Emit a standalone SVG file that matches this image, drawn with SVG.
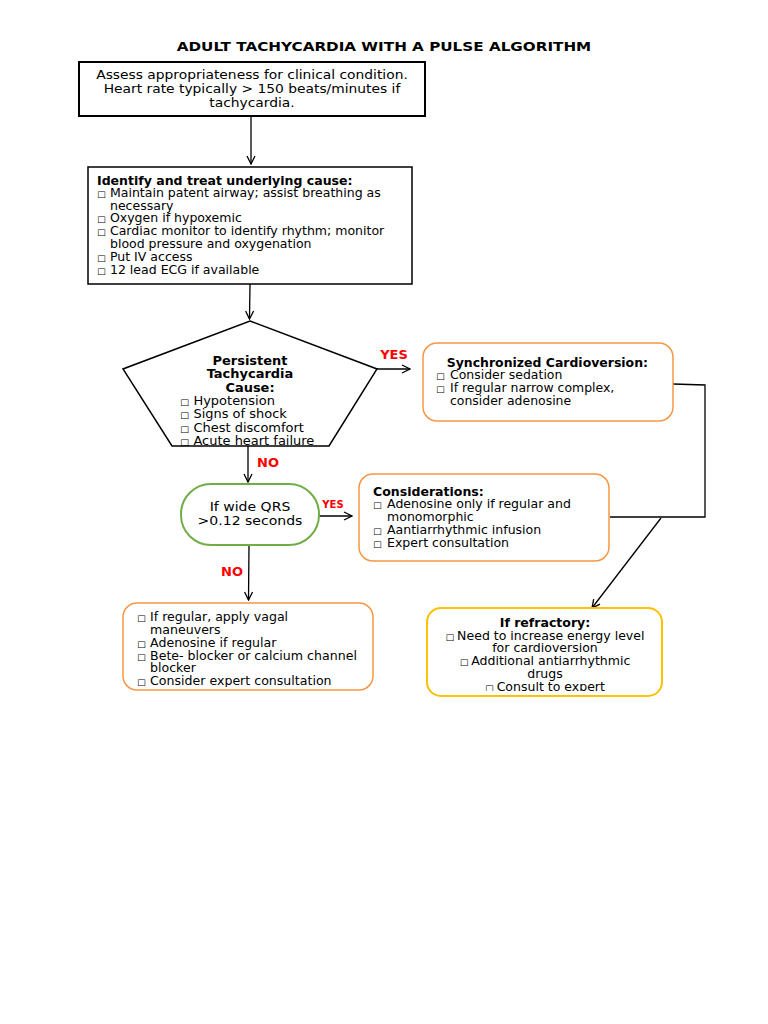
<svg xmlns="http://www.w3.org/2000/svg" width="768" height="1024" viewBox="0 0 768 1024">
<style>
text{font-family:"DejaVu Sans","Verdana",sans-serif;fill:#000}
.t13{font-size:13px}
.t12{font-size:11.6px}
.b{font-weight:bold}
.c{text-anchor:middle}
.bx{font-size:8.5px}
.red{fill:#FF0000;font-weight:bold}
.ln{stroke:#000;stroke-width:1.3;fill:none}
.arr{stroke:#000;stroke-width:1.3;fill:none;marker-end:url(#ah)}
</style>
<defs>
<marker id="ah" markerWidth="10" markerHeight="10" refX="9" refY="5" orient="auto" markerUnits="userSpaceOnUse">
<path d="M1,1 L9,5 L1,9" fill="none" stroke="#000" stroke-width="1.3"/>
</marker>
<clipPath id="cp-pent"><rect x="120" y="318" width="260" height="128"/></clipPath>
<clipPath id="cp-bl"><rect x="123" y="603" width="250" height="84"/></clipPath>
<clipPath id="cp-ref"><rect x="427" y="608" width="235" height="83"/></clipPath>
</defs>
<rect width="768" height="1024" fill="#fff"/>
<g transform="matrix(1.17,0,0,1,-65.28,0)">
<text id="title" class="b c" x="384" y="51" font-size="13">ADULT TACHYCARDIA WITH A PULSE ALGORITHM</text>
</g>

<g id="connectors">
<line class="arr" x1="251" y1="116" x2="251" y2="164"/>
<line class="arr" x1="250" y1="284" x2="249.5" y2="319"/>
<line class="arr" x1="377" y1="369" x2="410" y2="369"/>
<line class="arr" x1="248" y1="446" x2="248" y2="482"/>
<line class="arr" x1="319" y1="516" x2="352" y2="516"/>
<line class="arr" x1="249" y1="545" x2="248.5" y2="600"/>
<polyline class="ln" points="673,384 705,385 705,517 610,517"/>
<line class="arr" x1="661" y1="518" x2="592" y2="608"/>
<text class="red" x="394" y="359" font-size="13" text-anchor="middle">YES</text>
<text class="red" x="268" y="467" font-size="13" text-anchor="middle">NO</text>
<text class="red" x="333" y="508" font-size="10" text-anchor="middle">YES</text>
<text class="red" x="232" y="576" font-size="13" text-anchor="middle">NO</text>
</g>

<g id="assess">
<rect x="79" y="62" width="346" height="54" fill="#fff" stroke="#000" stroke-width="2"/>
<g transform="matrix(1.065,0,0,1,-16.38,0)">
<text class="t13 c" x="252" y="79">Assess appropriateness for clinical condition.</text>
<text class="t13 c" x="252" y="93">Heart rate typically &gt; 150 beats/minutes if</text>
<text class="t13 c" x="252" y="107">tachycardia.</text>
</g>
</g>

<g id="identify">
<rect x="88" y="167" width="324" height="117" fill="#fff" stroke="#000" stroke-width="1.5"/>
<g transform="matrix(1.08,0,0,1,-7.76,0)">
<text class="t12 b" x="97" y="185">Identify and treat underlying cause:</text>
<text class="t12" y="197"><tspan class="bx" x="97">□</tspan><tspan x="109">Maintain patent airway; assist breathing as</tspan></text>
<text class="t12" x="109" y="210">necessary</text>
<text class="t12" y="222"><tspan class="bx" x="97">□</tspan><tspan x="109">Oxygen if hypoxemic</tspan></text>
<text class="t12" y="235"><tspan class="bx" x="97">□</tspan><tspan x="109">Cardiac monitor to identify rhythm; monitor</tspan></text>
<text class="t12" x="109" y="248">blood pressure and oxygenation</text>
<text class="t12" y="261"><tspan class="bx" x="97">□</tspan><tspan x="109">Put IV access</tspan></text>
<text class="t12" y="274"><tspan class="bx" x="97">□</tspan><tspan x="109">12 lead ECG if available</tspan></text>
</g>
</g>

<g id="persistent">
<polygon points="250,321 377,369 329,446 172,446 123,369" fill="#fff" stroke="#000" stroke-width="1.5"/>
<g clip-path="url(#cp-pent)">
<g transform="matrix(1.12,0,0,1,-30,0)">
<text class="t12 b c" x="250" y="365">Persistent</text>
<text class="t12 b c" x="250" y="378">Tachycardia</text>
<text class="t12 b c" x="250" y="392">Cause:</text>
</g>
<g transform="matrix(1.12,0,0,1,-21.6,0)">
<text class="t12" y="405"><tspan class="bx" x="180">□</tspan><tspan x="192">Hypotension</tspan></text>
<text class="t12" y="418"><tspan class="bx" x="180">□</tspan><tspan x="192">Signs of shock</tspan></text>
<text class="t12" y="432"><tspan class="bx" x="180">□</tspan><tspan x="192">Chest discomfort</tspan></text>
<text class="t12" y="445"><tspan class="bx" x="180">□</tspan><tspan x="192">Acute heart failure</tspan></text>
</g>
</g>
</g>

<g id="sync">
<rect x="423" y="343" width="250" height="78" rx="14" fill="#fff" stroke="#F79646" stroke-width="1.5"/>
<g transform="matrix(1.075,0,0,1,-32.7,0)">
<text class="t12 b" x="446" y="367">Synchronized Cardioversion:</text>
<text class="t12" y="379"><tspan class="bx" x="436">□</tspan><tspan x="449">Consider sedation</tspan></text>
<text class="t12" y="392"><tspan class="bx" x="436">□</tspan><tspan x="449">If regular narrow complex,</tspan></text>
<text class="t12" x="449" y="405">consider adenosine</text>
</g>
</g>

<g id="wideqrs">
<rect x="181" y="484" width="138" height="61" rx="30" fill="#fff" stroke="#70AD47" stroke-width="2"/>
<g transform="matrix(1.08,0,0,1,-20,0)">
<text class="t13 c" x="250" y="511">If wide QRS</text>
<text class="t13 c" x="250" y="525">&gt;0.12 seconds</text>
</g>
</g>

<g id="considerations">
<rect x="359" y="474" width="250" height="87" rx="14" fill="#fff" stroke="#F79646" stroke-width="1.5"/>
<g transform="matrix(1.08,0,0,1,-29.84,0)">
<text class="t12 b" x="373" y="496">Considerations:</text>
<text class="t12" y="508"><tspan class="bx" x="373">□</tspan><tspan x="386">Adenosine only if regular and</tspan></text>
<text class="t12" x="386" y="521">monomorphic</text>
<text class="t12" y="534"><tspan class="bx" x="373">□</tspan><tspan x="386">Aantiarrhythmic infusion</tspan></text>
<text class="t12" y="547"><tspan class="bx" x="373">□</tspan><tspan x="386">Expert consultation</tspan></text>
</g>
</g>

<g id="narrow">
<rect x="123" y="603" width="250" height="87" rx="14" fill="#fff" stroke="#F79646" stroke-width="1.5"/>
<g clip-path="url(#cp-bl)">
<g transform="matrix(1.086,0,0,1,-11.78,0)">
<text class="t12" y="621"><tspan class="bx" x="137">□</tspan><tspan x="149">If regular, apply vagal</tspan></text>
<text class="t12" x="149" y="634">maneuvers</text>
<text class="t12" y="647"><tspan class="bx" x="137">□</tspan><tspan x="149">Adenosine if regular</tspan></text>
<text class="t12" y="660"><tspan class="bx" x="137">□</tspan><tspan x="149">Bete- blocker or calcium channel</tspan></text>
<text class="t12" x="149" y="672">blocker</text>
<text class="t12" y="685"><tspan class="bx" x="137">□</tspan><tspan x="149">Consider expert consultation</tspan></text>
</g>
</g>
</g>

<g id="refractory">
<rect x="427" y="608" width="235" height="88" rx="14" fill="#fff" stroke="#FFC000" stroke-width="2"/>
<g clip-path="url(#cp-ref)">
<g transform="matrix(1.08,0,0,1,-43.6,0)">
<text class="t12 b c" x="545" y="627">If refractory:</text>
<text class="t12 c" x="545" y="640"><tspan class="bx">□ </tspan>Need to increase energy level</text>
<text class="t12 c" x="545" y="652">for cardioversion</text>
<text class="t12 c" x="545" y="665"><tspan class="bx">□ </tspan>Additional antiarrhythmic</text>
<text class="t12 c" x="545" y="678">drugs</text>
<text class="t12 c" x="545" y="691"><tspan class="bx">□ </tspan>Consult to expert</text>
</g>
</g>
</g>
</svg>
